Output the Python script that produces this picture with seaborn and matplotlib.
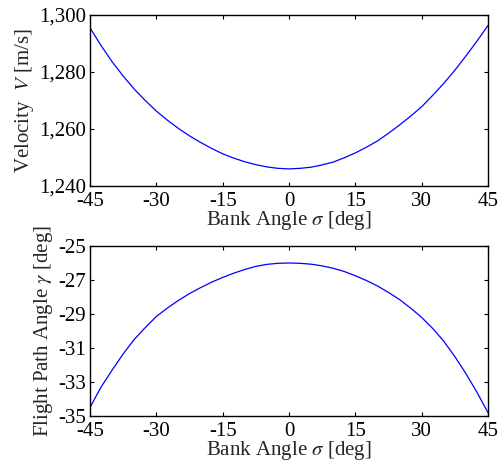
import numpy as np
import pandas as pd
import matplotlib
matplotlib.use("Agg")
import matplotlib.pyplot as plt
import matplotlib.ticker as mticker
import seaborn as sns

# bank angle sweep (deg)
bank_angle = [-45, -42.5, -40, -37.5, -35, -32.5, -30, -27.5, -25, -22.5,
              -20, -17.5, -15, -12.5, -10, -7.5, -5, -2.5, 0,
              2.5, 5, 7.5, 10, 12.5, 15, 17.5, 20, 22.5,
              25, 27.5, 30, 32.5, 35, 37.5, 40, 42.5, 45]

# terminal velocity (m/s)
velocity = [1295.5, 1289.3, 1283.6, 1278.6, 1274.0, 1270.0, 1266.3, 1263.1, 1260.2, 1257.6,
            1255.3, 1253.2, 1251.3, 1249.8, 1248.5, 1247.5, 1246.7, 1246.2, 1246.0,
            1246.2, 1246.6, 1247.4, 1248.4, 1249.9, 1251.6, 1253.6, 1255.8, 1258.5,
            1261.4, 1264.5, 1267.8, 1271.8, 1276.0, 1280.6, 1285.6, 1290.8, 1296.3]

# terminal flight path angle (deg)
gamma = [-34.5, -33.3, -32.3, -31.35, -30.5, -29.8, -29.15, -28.65, -28.2, -27.8,
         -27.45, -27.13, -26.85, -26.6, -26.38, -26.2, -26.08, -26.02, -26.0,
         -26.02, -26.07, -26.17, -26.31, -26.5, -26.75, -27.03, -27.35, -27.73,
         -28.15, -28.65, -29.2, -29.85, -30.6, -31.5, -32.5, -33.6, -34.8]

x_ticks = [-45, -30, -15, 0, 15, 30, 45]
v_ticks = [1240, 1260, 1280, 1300]
g_ticks = [-35, -33, -31, -29, -27, -25]

df = pd.DataFrame({"sigma": bank_angle, "V": velocity, "gamma": gamma})

sns.set_style("ticks")
plt.rcParams["font.family"] = ["Liberation Serif", "DejaVu Serif"]
plt.rcParams["mathtext.fontset"] = "stix"
plt.rcParams["axes.unicode_minus"] = False
plt.rcParams["xtick.direction"] = "in"
plt.rcParams["ytick.direction"] = "in"

FS = 15
fig = plt.figure(figsize=(5.01, 4.61), dpi=100)
ax1 = fig.add_axes([0.1796, 0.5965, 0.7944, 0.371])
ax2 = fig.add_axes([0.1796, 0.0976, 0.7944, 0.3688])

panels = [
    (ax1, "V", v_ticks, r"Velocity  $V$ [m/s]"),
    (ax2, "gamma", g_ticks, r"Flight Path Angle $\gamma$ [deg]"),
]
for ax, col, yt, ylab in panels:
    sns.lineplot(data=df, x="sigma", y=col, ax=ax, color="#0000ff", linewidth=0.9)
    ax.set_xlim(-45, 45)
    ax.set_ylim(yt[0], yt[-1])
    ax.set_xticks(x_ticks)
    ax.set_yticks(yt)
    ax.tick_params(axis="both", labelsize=FS, length=3, width=0.8, colors="black",
                   top=True, right=True)
    ax.tick_params(axis="x", pad=4)
    ax.tick_params(axis="y", pad=3)
    for sp in ax.spines.values():
        sp.set_visible(True)
        sp.set_linewidth(1.0)
        sp.set_color("black")
    ax.set_xlabel(r"Bank Angle $\sigma$ [deg]", fontsize=FS, labelpad=-1)
    ax.set_ylabel(ylab, fontsize=FS, labelpad=2)

ax1.yaxis.set_major_formatter(mticker.StrMethodFormatter("{x:,.0f}"))

fig.savefig("out.png", dpi=100)
